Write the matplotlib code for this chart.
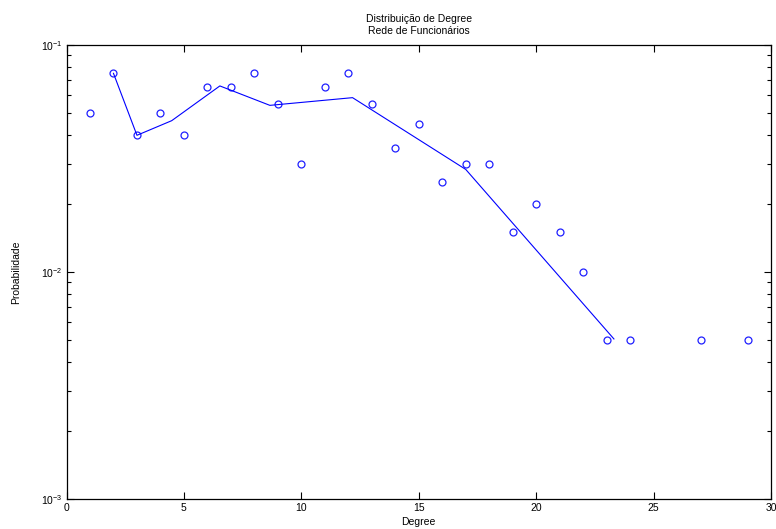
import numpy as np
import matplotlib
matplotlib.use('Agg')
import matplotlib.pyplot as plt

plt.rcParams['font.family'] = ['Liberation Sans', 'DejaVu Sans']
plt.rcParams['mathtext.fontset'] = 'custom'
plt.rcParams['mathtext.rm'] = 'Liberation Sans'

# distribuição observada
degree = [1, 2, 3, 4, 5, 6, 7, 8, 9, 10, 11, 12, 13, 14, 15, 16, 17, 18,
          19, 20, 21, 22, 23, 24, 27, 29]
prob = [0.05, 0.075, 0.04, 0.05, 0.04, 0.065, 0.065, 0.075, 0.055, 0.03,
        0.065, 0.075, 0.055, 0.035, 0.045, 0.025, 0.03, 0.03, 0.015, 0.02,
        0.015, 0.01, 0.005, 0.005, 0.005, 0.005]

# curva suavizada (médias por faixa)
fit_x = [2.0, 3.0, 4.48, 6.53, 8.66, 12.18, 17.0, 23.31]
fit_y = [0.075, 0.04, 0.0464, 0.066, 0.0542, 0.0586, 0.0283, 0.00507]

fig = plt.figure(figsize=(7.76, 5.29), dpi=100)
ax = fig.add_axes([0.0857, 0.0567, 0.9079, 0.8583])

ax.plot(degree, prob, 'o', mfc='none', mec='#2020ff', ms=5.0, mew=0.9)
ax.plot(fit_x, fit_y, '-', color='#0000ff', lw=0.8)

ax.set_yscale('log')
ax.set_xlim(0, 30)
ax.set_ylim(1e-3, 1e-1)
ax.set_xticks([0, 5, 10, 15, 20, 25, 30])

ax.tick_params(which='both', direction='in', top=True, right=True,
               labelsize=7.5, width=0.8)
ax.tick_params(which='major', length=5, pad=3)
ax.tick_params(which='minor', length=3)
for s in ax.spines.values():
    s.set_linewidth(0.9)

ax.set_title('Distribuição de Degree\nRede de Funcionários', fontsize=7.5,
             linespacing=1.2, pad=8)
ax.set_xlabel('Degree', fontsize=7.5, labelpad=3)
ax.set_ylabel('Probabilidade', fontsize=7.5, labelpad=14)

plt.savefig('out.png', dpi=100)
plt.close()
